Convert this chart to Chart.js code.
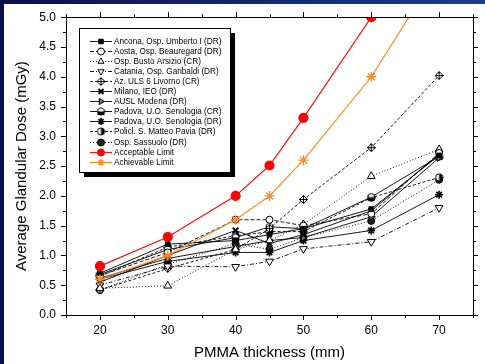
<!DOCTYPE html>
<html>
<head>
<meta charset="utf-8">
<script src="https://cdn.jsdelivr.net/npm/chart.js@4.4.1/dist/chart.umd.min.js"></script>
<style>
  html, body { margin: 0; padding: 0; background: #fff; }
  #wrap { position: relative; width: 485px; height: 364px; overflow: hidden; }
  #frameTop { position: absolute; left: 0; top: 0; width: 485px; height: 4px; background: linear-gradient(to right, #07134a, #1c3c8c); }
  #frameLeft { position: absolute; left: 0; top: 0; width: 4px; height: 364px; background: #07134a; }
</style>
</head>
<body>
<div id="wrap">
  <canvas id="c" width="485" height="364"></canvas>
  <div id="frameTop"></div>
  <div id="frameLeft"></div>
</div>
<script>
// PMMA thickness (mm)
const thickness = [20, 30, 40, 45, 50, 60, 70];

// Average glandular dose (mGy) per centre
const ancona     = [0.70, 1.19, 1.25, 1.35, 1.45, 1.78, 2.68];
const aosta      = [0.66, 1.05, 1.60, 1.60, 1.50, 1.70, 2.72];
const busto      = [0.45, 0.49, 1.10, 1.25, 1.52, 2.33, 2.78];
const catania    = [0.50, 0.82, 0.81, 0.90, 1.11, 1.23, 1.80];
const livorno    = [0.42, 0.78, 1.10, 1.45, 1.94, 2.81, 4.02];
const milano     = [0.55, 1.00, 1.42, 1.20, 1.35, 1.75, 2.70];
const modena     = [0.62, 0.95, 1.15, 1.25, 1.30, 1.65, 2.64];
const padovaCR   = [0.68, 1.10, 1.30, 1.48, 1.45, 1.98, 2.66];
const padovaDR   = [0.60, 0.90, 1.05, 1.05, 1.25, 1.42, 2.02];
const pavia      = [0.65, 1.14, 1.33, 1.40, 1.40, 1.97, 2.31];
const sassuolo   = [0.42, 0.85, 1.20, 1.10, 1.30, 1.58, 2.27];
const acceptable = [0.82, 1.31, 2.00, 2.51, 3.31, 5.00, null];
const achievable = [0.60, 1.00, 1.60, 2.00, 2.60, 4.00, 5.80];

const seriesNames = [
  "Ancona, Osp. Umberto I (DR)",
  "Aosta, Osp. Beauregard (DR)",
  "Osp. Busto Arsizio (CR)",
  "Catania, Osp. Garibaldi (DR)",
  "Az. ULS 6 Livorno (CR)",
  "Milano, IEO (DR)",
  "AUSL Modena (DR)",
  "Padova, U.O. Senologia (CR)",
  "Padova, U.O. Senologia (DR)",
  "Policl. S. Matteo Pavia (DR)",
  "Osp. Sassuolo (DR)",
  "Acceptable Limit",
  "Achievable Limit"
];

const xTicks = [20, 30, 40, 50, 60, 70];

const FONT = "'Liberation Sans', Arial, sans-serif";
Chart.defaults.font.family = FONT;
Chart.defaults.color = '#000';

// little canvases for the odd markers
function markerCanvas(draw) {
  const cv = document.createElement('canvas');
  cv.width = 9; cv.height = 9;
  const g = cv.getContext('2d');
  g.strokeStyle = '#000'; g.fillStyle = '#000'; g.lineWidth = 1;
  draw(g);
  return cv;
}
const crossDiamond = markerCanvas(g => {
  g.beginPath();
  g.moveTo(4.5, 0.5); g.lineTo(8.5, 4.5); g.lineTo(4.5, 8.5); g.lineTo(0.5, 4.5); g.closePath();
  g.fillStyle = '#fff'; g.fill(); g.stroke();
  g.beginPath(); g.moveTo(4.5, 0.5); g.lineTo(4.5, 8.5); g.moveTo(0.5, 4.5); g.lineTo(8.5, 4.5); g.stroke();
});
const halfHex = markerCanvas(g => {
  g.beginPath();
  for (let i = 0; i < 6; i++) {
    const a = Math.PI / 6 + i * Math.PI / 3;
    const px = 4.5 + 3.8 * Math.cos(a), py = 4.5 + 3.8 * Math.sin(a);
    i ? g.lineTo(px, py) : g.moveTo(px, py);
  }
  g.closePath(); g.fillStyle = '#fff'; g.fill(); g.stroke();
  g.fillStyle = '#000'; g.fillRect(1, 4.5, 7, 3.5);
});
const halfCircle = markerCanvas(g => {
  g.beginPath(); g.arc(4.5, 4.5, 3.6, 0, Math.PI * 2);
  g.fillStyle = '#fff'; g.fill(); g.stroke();
  g.beginPath(); g.arc(4.5, 4.5, 3.6, -Math.PI / 2, Math.PI / 2); g.closePath();
  g.fillStyle = '#000'; g.fill();
});

function pts(vals) {
  return thickness.map((t, i) => ({ x: t, y: vals[i] }));
}

function blackSeries(i, vals, dash, style, extra) {
  return Object.assign({
    label: seriesNames[i],
    data: pts(vals),
    borderColor: '#000',
    borderWidth: 0.9,
    borderDash: dash,
    pointStyle: style,
    pointRadius: 3.5,
    pointBorderColor: '#000',
    pointBackgroundColor: '#000',
    pointBorderWidth: 1,
    tension: 0
  }, extra || {});
}

const datasets = [
  blackSeries(0, ancona, [], 'rect', { pointRadius: 3.2 }),
  blackSeries(1, aosta, [4, 2], 'circle', { pointBackgroundColor: '#fff' }),
  blackSeries(2, busto, [1, 2], 'triangle', { pointBackgroundColor: '#fff', pointRadius: 4.5 }),
  blackSeries(3, catania, [4, 2, 1, 2], 'triangle', { pointBackgroundColor: '#fff', pointRotation: 180, pointRadius: 4.5 }),
  blackSeries(4, livorno, [3, 2], crossDiamond),
  blackSeries(5, milano, [], 'crossRot', { pointBorderWidth: 2, pointRadius: 4 }),
  blackSeries(6, modena, [], 'triangle', { pointRotation: 90, pointBackgroundColor: '#777', pointRadius: 4 }),
  blackSeries(7, padovaCR, [], halfHex),
  blackSeries(8, padovaDR, [], 'star', { pointBorderWidth: 1.6, pointRadius: 4 }),
  blackSeries(9, pavia, [3, 2], halfCircle),
  blackSeries(10, sassuolo, [1, 2], 'circle', { pointBackgroundColor: '#222' }),
  {
    label: seriesNames[11], data: pts(acceptable), order: -2,
    borderColor: '#ff1010', borderWidth: 1.2, pointStyle: 'circle', pointRadius: 4.5,
    pointBackgroundColor: '#ff0000', pointBorderColor: '#ff0000', clip: 0
  },
  {
    label: seriesNames[12], data: pts(achievable), order: -1,
    borderColor: '#ff8a1c', borderWidth: 1.2, pointStyle: 'star', pointRadius: 5,
    pointBackgroundColor: '#ff8a1c', pointBorderColor: '#ff8a1c', pointBorderWidth: 1.3, clip: 0
  }
];

// frame, mirrored axes and their ticks
const axesFrame = {
  id: 'axesFrame',
  afterDraw(chart) {
    const { ctx, chartArea: a, scales } = chart;
    const xs = scales.x, ys = scales.y;
    ctx.save();
    ctx.strokeStyle = '#000';
    ctx.lineWidth = 1;
    ctx.strokeRect(Math.round(a.left) + 0.5, Math.round(a.top) + 0.5,
      Math.round(a.right - a.left), Math.round(a.bottom - a.top));
    ctx.beginPath();
    for (let v = 15; v <= 75; v += 5) {
      const px = Math.round(xs.getPixelForValue(v)) + 0.5;
      const len = v % 10 === 0 ? 5 : 3;
      ctx.moveTo(px, a.bottom); ctx.lineTo(px, a.bottom + len);
      ctx.moveTo(px, a.top); ctx.lineTo(px, a.top - len);
    }
    for (let k = 0; k <= 20; k++) {
      const v = k * 0.25;
      const py = Math.round(ys.getPixelForValue(v)) + 0.5;
      const len = k % 2 === 0 ? 5 : 3;
      ctx.moveTo(a.left, py); ctx.lineTo(a.left - len, py);
      ctx.moveTo(a.right, py); ctx.lineTo(a.right + len, py);
    }
    ctx.stroke();
    ctx.restore();
  }
};

// boxed legend with a drop shadow inside the plot
const boxLegend = {
  id: 'boxLegend',
  afterDraw(chart) {
    const ctx = chart.ctx;
    const bx = 79, by = 28, bw = 151, bh = 144;
    ctx.save();
    ctx.fillStyle = '#000';
    ctx.fillRect(bx + 5, by + 5, bw, bh);
    ctx.fillStyle = '#fff';
    ctx.fillRect(bx, by, bw, bh);
    ctx.strokeStyle = '#000';
    ctx.lineWidth = 1;
    ctx.strokeRect(bx + 0.5, by + 0.5, bw, bh);
    ctx.font = '8.2px ' + FONT;
    ctx.textBaseline = 'middle';
    chart.data.datasets.forEach((ds, i) => {
      const y = Math.round(41 + i * 10.05) + 0.5;
      ctx.strokeStyle = ds.borderColor;
      ctx.lineWidth = ds.borderWidth;
      ctx.setLineDash(ds.borderDash || []);
      ctx.beginPath(); ctx.moveTo(90, y); ctx.lineTo(112, y); ctx.stroke();
      ctx.setLineDash([]);
      ctx.fillStyle = ds.pointBackgroundColor;
      ctx.strokeStyle = ds.pointBorderColor;
      ctx.lineWidth = ds.pointBorderWidth || 1;
      Chart.helpers.drawPoint(ctx, {
        pointStyle: ds.pointStyle,
        rotation: ds.pointRotation || 0,
        radius: Math.min(ds.pointRadius, 3.5),
        borderWidth: ds.pointBorderWidth || 1
      }, 101, y);
      ctx.fillStyle = '#000';
      ctx.fillText(ds.label, 114, y);
    });
    ctx.restore();
  }
};

new Chart(document.getElementById('c'), {
  type: 'line',
  data: { datasets },
  options: {
    responsive: false,
    animation: false,
    layout: { padding: { top: 14, right: 12, left: 0, bottom: 0 } },
    plugins: { legend: { display: false }, tooltip: { enabled: false } },
    scales: {
      x: {
        type: 'linear', min: 15, max: 75,
        grid: { display: false, drawTicks: false },
        border: { display: false },
        ticks: {
          stepSize: 5, autoSkip: false, maxRotation: 0, padding: 8,
          font: { size: 12 }, color: '#000',
          callback: v => xTicks.includes(v) ? String(v) : ''
        },
        title: { display: true, text: 'PMMA thickness (mm)', font: { size: 15 }, color: '#000', padding: { top: 0, bottom: 2 } },
        afterFit: s => { s.height = 49; }
      },
      y: {
        min: 0, max: 5,
        grid: { display: false, drawTicks: false },
        border: { display: false },
        ticks: {
          stepSize: 0.5, padding: 10, font: { size: 12 }, color: '#000',
          callback: v => v.toFixed(1)
        },
        title: { display: true, text: 'Average Glandular Dose (mGy)', font: { size: 15 }, color: '#000', padding: { top: 13, bottom: 0 } },
        afterFit: s => { s.width = 66; }
      }
    }
  },
  plugins: [axesFrame, boxLegend]
});
</script>
</body>
</html>
